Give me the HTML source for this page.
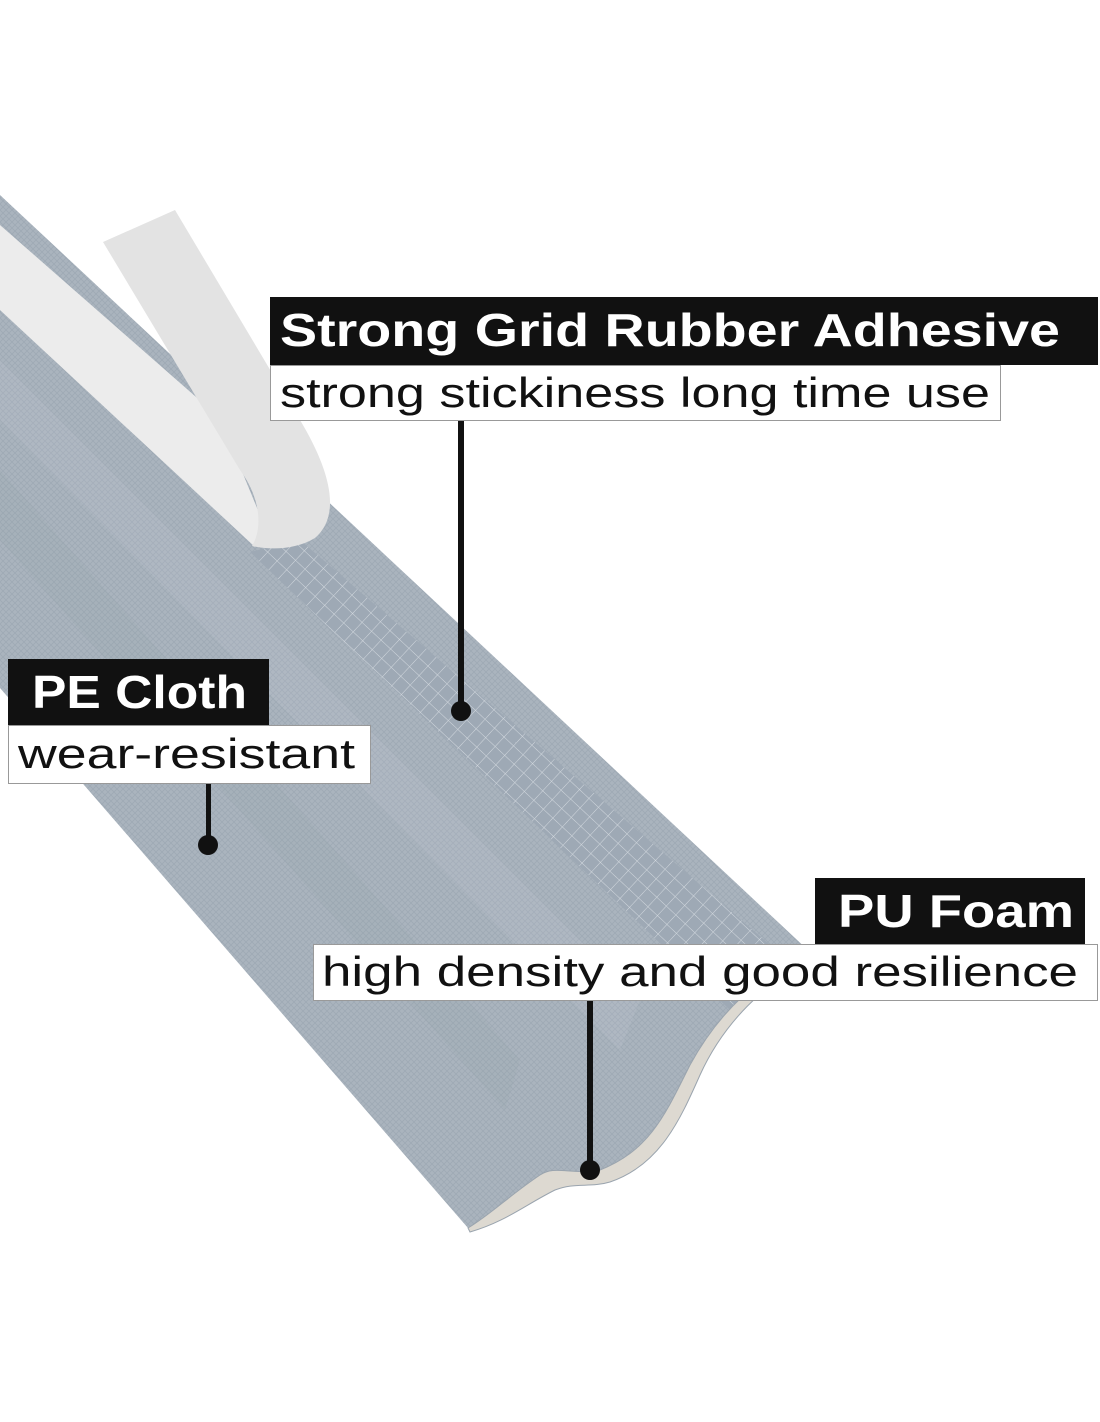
<!DOCTYPE html>
<html><head><meta charset="utf-8"><style>
html,body{margin:0;padding:0;background:#fff}
svg{display:block}
</style></head><body>
<svg width="1100" height="1422" viewBox="0 0 1100 1422" xmlns="http://www.w3.org/2000/svg">
<defs>
<pattern id="tex" width="6" height="6" patternUnits="userSpaceOnUse">
<rect width="6" height="6" fill="#aab4be"/>
<path d="M0 0L3 3L6 0M0 6L3 3L6 6" stroke="#9ea9b4" stroke-width="0.8" fill="none"/>
</pattern>
<pattern id="mesh" width="13" height="13" patternUnits="userSpaceOnUse" patternTransform="rotate(43)">
<rect width="13" height="13" fill="#9ea9b5"/>
<path d="M0 0H13M0 0V13" stroke="#d3d9df" stroke-width="1"/>
</pattern>
</defs>
<!-- strip body -->
<path d="M0 195 L810 952 C760 975 720 1010 690 1065 C665 1115 650 1150 600 1170 C570 1175 555 1165 540 1175 C510 1195 490 1215 468 1228 L0 688 Z" fill="url(#tex)"/>
<!-- subtle grooves -->
<path d="M0 470 L520 1060 L505 1110 L0 540 Z" fill="#8e99a5" opacity="0.12"/>
<path d="M0 360 L640 1000 L620 1050 L0 420 Z" fill="#c6ced6" opacity="0.18"/>
<!-- adhesive mesh band -->
<path d="M300 540 L790 962 C765 975 745 990 730 1010 L250 552 Z" fill="url(#mesh)"/>
<!-- foam end -->
<path d="M810 952 C760 975 720 1010 690 1065 C665 1115 650 1150 600 1170 C570 1175 555 1165 540 1175 C510 1195 490 1215 468 1228 L470 1232 C505 1222 525 1205 555 1190 C575 1182 590 1188 610 1182 C660 1165 680 1120 700 1075 C725 1020 765 985 810 958 Z" fill="#ddd9d1" stroke="#9aa4ae" stroke-width="1"/>
<!-- tape lying -->
<path d="M0 225 L220 418 L262 520 L255 547 L0 310 Z" fill="#ececec"/>
<!-- tape standing -->
<path d="M103 242 L175 210 L300 420 C330 470 342 515 315 538 C295 550 270 550 252 546 C262 530 262 500 240 470 Z" fill="#e3e3e3"/>
<!-- Label 1 -->
<rect x="270" y="297" width="828" height="68" fill="#111"/>
<text x="280" y="346" font-family="Liberation Sans, sans-serif" font-weight="bold" font-size="46" fill="#fff" textLength="780" lengthAdjust="spacingAndGlyphs">Strong Grid Rubber Adhesive</text>
<rect x="270.5" y="365.5" width="730" height="55" fill="#fff" stroke="#999"/>
<text x="280" y="407" font-family="Liberation Sans, sans-serif" font-size="42" fill="#111" textLength="710" lengthAdjust="spacingAndGlyphs">strong stickiness long time use</text>
<rect x="458" y="421" width="6" height="290" fill="#111"/>
<circle cx="461" cy="711" r="10" fill="#111"/>
<!-- Label 2 -->
<rect x="8" y="659" width="261" height="66" fill="#111"/>
<text x="32" y="708" font-family="Liberation Sans, sans-serif" font-weight="bold" font-size="46" fill="#fff" textLength="215" lengthAdjust="spacingAndGlyphs">PE Cloth</text>
<rect x="8.5" y="725.5" width="362" height="58" fill="#fff" stroke="#999"/>
<text x="18" y="768" font-family="Liberation Sans, sans-serif" font-size="42" fill="#111" textLength="337" lengthAdjust="spacingAndGlyphs">wear-resistant</text>
<rect x="206" y="784" width="5" height="61" fill="#111"/>
<circle cx="208" cy="845" r="10" fill="#111"/>
<!-- Label 3 -->
<rect x="815" y="878" width="270" height="66" fill="#111"/>
<text x="838" y="927" font-family="Liberation Sans, sans-serif" font-weight="bold" font-size="46" fill="#fff" textLength="236" lengthAdjust="spacingAndGlyphs">PU Foam</text>
<rect x="313.5" y="944.5" width="784" height="56" fill="#fff" stroke="#999"/>
<text x="322" y="986" font-family="Liberation Sans, sans-serif" font-size="42" fill="#111" textLength="756" lengthAdjust="spacingAndGlyphs">high density and good resilience</text>
<rect x="587" y="1001" width="6" height="169" fill="#111"/>
<circle cx="590" cy="1170" r="10" fill="#111"/>
</svg>
</body></html>
